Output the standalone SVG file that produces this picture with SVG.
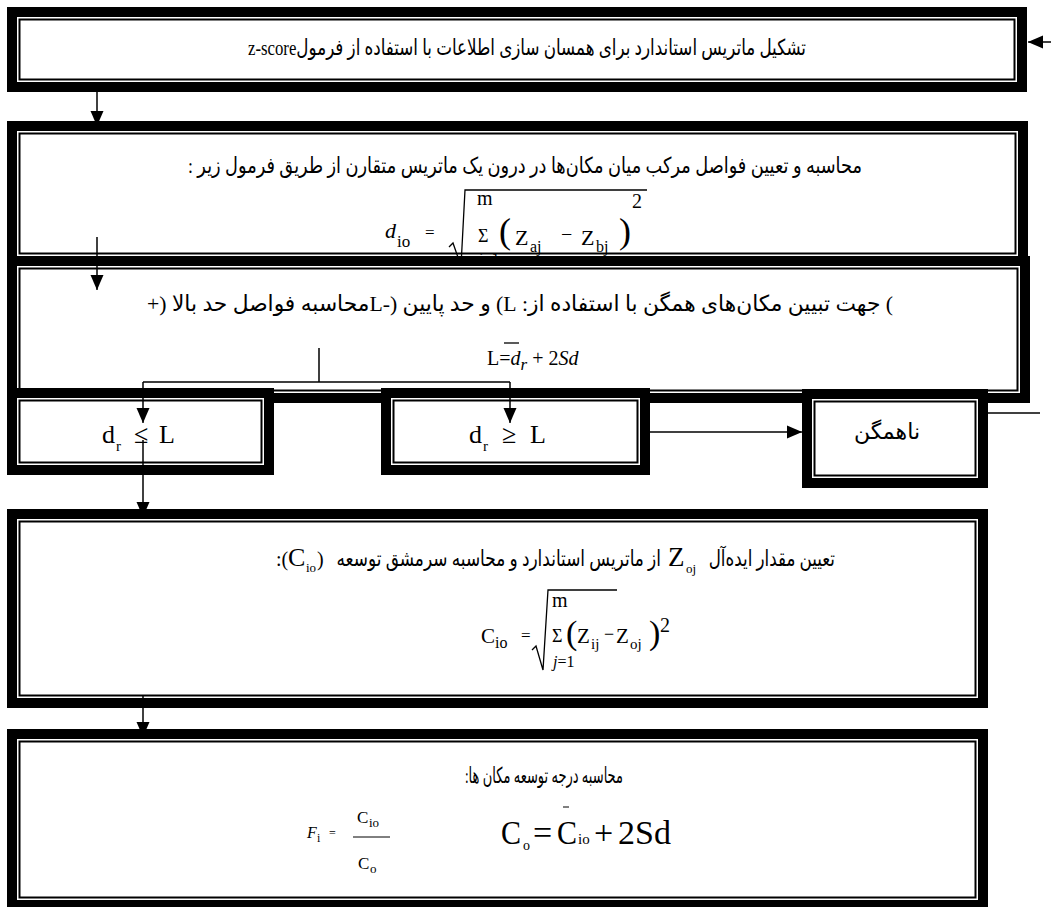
<svg xmlns="http://www.w3.org/2000/svg" width="1051" height="907" viewBox="0 0 1051 907">
<style>
.frame{fill:#000}
.inner{fill:#fff}
.line{fill:none;stroke:#000;stroke-width:2}
.fa{font-family:'Liberation Serif','DejaVu Sans',sans-serif;font-size:22px;fill:#000}
.m{font-family:'Liberation Serif',serif;fill:#000}
.it{font-style:italic}
.conn{stroke:#000;stroke-width:1.5;fill:none}
.arr{marker-end:url(#ah)}
.rad{fill:none;stroke:#000;stroke-width:1.3}
</style>
<defs>
<marker id="ah" markerUnits="userSpaceOnUse" markerWidth="14" markerHeight="15" refX="15" refY="7" orient="auto">
<path d="M0,0.5 L15,7 L0,13.5 z" fill="#000"/>
</marker>
</defs>
<rect width="1051" height="907" fill="#fff"/>

<g id="box1">
<rect class="frame" x="7" y="7" width="1020" height="85"/>
<rect class="inner" x="17" y="17" width="1000" height="65"/>
<rect class="line" x="19.5" y="19.5" width="995" height="60"/>
<text class="fa" x="527" y="55" text-anchor="middle" direction="rtl" textLength="558" lengthAdjust="spacingAndGlyphs">تشکیل ماتریس استاندارد برای همسان سازی اطلاعات با استفاده از فرمولz-score</text>
</g>

<g id="box2">
<rect class="frame" x="7" y="121" width="1021" height="145"/>
<rect class="inner" x="17" y="131" width="1001" height="125"/>
<rect class="line" x="19.5" y="133.5" width="996" height="120"/>
<text class="fa" x="525" y="173" text-anchor="middle" direction="rtl" textLength="674" lengthAdjust="spacingAndGlyphs">محاسبه و تعیین فواصل مرکب میان مکان‌ها در  درون یک ماتریس متقارن از طریق فرمول زیر :</text>
<text class="m it" x="385" y="238" font-size="22">d</text>
<text class="m" x="397" y="247" font-size="17">io</text>
<text class="m" x="425" y="238" font-size="17">=</text>
<path class="rad" d="M449,247 L453,243 L461,266 L465,190 L647,190"/>
<text class="m" x="477" y="205" font-size="20">m</text>
<text class="m" x="478" y="242" font-size="18">Σ</text>
<text class="m" x="478" y="264" font-size="16"><tspan class="it">j</tspan>=1</text>
<text class="m" x="499" y="243" font-size="36">(</text>
<text class="m" x="515" y="245" font-size="22">Z</text>
<text class="m" x="530" y="252" font-size="16">aj</text>
<text class="m" x="561" y="241" font-size="20">−</text>
<text class="m" x="581" y="245" font-size="22">Z</text>
<text class="m" x="596" y="252" font-size="16">bj</text>
<text class="m" x="619" y="243" font-size="36">)</text>
<text class="m" x="632" y="208" font-size="20">2</text>
</g>

<g id="box3">
<rect class="frame" x="7" y="256" width="1023" height="147"/>
<rect class="inner" x="17" y="266" width="1003" height="127"/>
<rect class="line" x="19.5" y="268.5" width="998" height="122"/>
<text class="fa" x="520" y="311" text-anchor="middle" direction="rtl" textLength="746" lengthAdjust="spacingAndGlyphs">) جهت تبیین مکان‌های همگن با استفاده از: L) و حد پایین (-Lمحاسبه فواصل حد بالا (+</text>
<text class="m" x="487" y="365" font-size="20">L=<tspan class="it">d</tspan><tspan class="it" font-size="17" dy="5">r</tspan><tspan dy="-5"> + 2</tspan><tspan class="it">Sd</tspan></text>
<path d="M504,343 H519" stroke="#000" stroke-width="1.3"/>
</g>

<g id="boxA">
<rect class="frame" x="7" y="388" width="267" height="87"/>
<rect class="inner" x="17" y="398" width="247" height="67"/>
<rect class="line" x="19.5" y="400.5" width="242" height="62"/>
<text class="m" x="102" y="443" font-size="26">d</text>
<text class="m" x="116" y="451" font-size="15">r</text>
<text class="m" x="134" y="443" font-size="26">≤</text>
<text class="m" x="159" y="443" font-size="26">L</text>
</g>

<g id="boxB">
<rect class="frame" x="381" y="388" width="269" height="87"/>
<rect class="inner" x="391" y="398" width="249" height="67"/>
<rect class="line" x="393.5" y="400.5" width="244" height="62"/>
<text class="m" x="469" y="443" font-size="26">d</text>
<text class="m" x="483" y="451" font-size="15">r</text>
<text class="m" x="502" y="443" font-size="26">≥</text>
<text class="m" x="530" y="443" font-size="26">L</text>
</g>

<g id="boxC">
<rect class="frame" x="802" y="389" width="186" height="99"/>
<rect class="inner" x="812" y="399" width="166" height="79"/>
<rect class="line" x="814.5" y="401.5" width="161" height="74"/>
<text class="fa" x="887" y="439" text-anchor="middle" direction="rtl" font-size="19">ناهمگن</text>
</g>

<g id="box4">
<rect class="frame" x="7" y="509" width="981" height="199"/>
<rect class="inner" x="17" y="519" width="961" height="179"/>
<rect class="line" x="19.5" y="521.5" width="956" height="174"/>
<text class="m" x="276" y="566" font-size="20">:(</text>
<text class="m" x="288" y="566" font-size="26">C</text>
<text class="m" x="306" y="572" font-size="13">io</text>
<text class="m" x="317" y="566" font-size="20">)</text>
<text class="fa" transform="translate(661,566) scale(0.77,1)" x="0" y="0" text-anchor="end">از ماتریس استاندارد و محاسبه سرمشق توسعه</text>
<text class="m" x="668" y="566" font-size="27">Z</text>
<text class="m" x="686" y="573" font-size="13">oj</text>
<text class="fa" transform="translate(835,566) scale(0.76,1)" x="0" y="0" text-anchor="end">تعیین مقدار ایده‌آل</text>
<text class="m" x="481" y="643" font-size="21">C</text>
<text class="m" x="495" y="648" font-size="16">io</text>
<text class="m" x="521" y="641" font-size="17">=</text>
<path class="rad" d="M532,650 L536,646 L543,670 L548,590 L617,590"/>
<text class="m" x="552" y="607" font-size="20">m</text>
<text class="m" x="552" y="642" font-size="18">Σ</text>
<text class="m" x="553" y="667" font-size="16"><tspan class="it">j</tspan>=1</text>
<text class="m" x="566" y="644" font-size="34">(</text>
<text class="m" x="577" y="643" font-size="21">Z</text>
<text class="m" x="591" y="649" font-size="15">ij</text>
<text class="m" x="604" y="640" font-size="18">−</text>
<text class="m" x="616" y="643" font-size="21">Z</text>
<text class="m" x="630" y="649" font-size="15">oj</text>
<text class="m" x="649" y="644" font-size="34">)</text>
<text class="m" x="660" y="632" font-size="20">2</text>
</g>

<g id="box5">
<rect class="frame" x="7" y="729" width="981" height="181"/>
<rect class="inner" x="17" y="739" width="961" height="161"/>
<rect class="line" x="19.5" y="741.5" width="956" height="156"/>
<text class="fa" x="544" y="783" text-anchor="middle" direction="rtl" font-size="20" textLength="158" lengthAdjust="spacingAndGlyphs">محاسبه درجه توسعه  مکان ها:</text>
<text class="m it" x="307" y="838" font-size="16">F</text>
<text class="m" x="317" y="842" font-size="12">i</text>
<text class="m" x="329" y="837" font-size="12">=</text>
<path d="M353,837 H390" stroke="#000" stroke-width="1"/>
<text class="m" x="357" y="823" font-size="17">C</text>
<text class="m" x="369" y="827" font-size="13">io</text>
<text class="m" x="358" y="869" font-size="17">C</text>
<text class="m" x="370" y="873" font-size="13">o</text>
<text class="m" x="501" y="844" font-size="34" textLength="20" lengthAdjust="spacingAndGlyphs">C</text>
<text class="m" x="523" y="850" font-size="14">o</text>
<text class="m" x="533" y="844" font-size="34">=</text>
<text class="m" x="557" y="844" font-size="34" textLength="20" lengthAdjust="spacingAndGlyphs">C</text>
<path d="M563,807 H569" stroke="#000" stroke-width="1"/>
<text class="m" x="578" y="844" font-size="15">io</text>
<text class="m" x="594" y="844" font-size="34">+</text>
<text class="m" x="618" y="844" font-size="34">2Sd</text>
</g>

<g id="connectors">
<path class="conn arr" d="M1051,42 H1028"/>
<path class="conn arr" d="M97,82 V126"/>
<path class="conn arr" d="M97,237 V290"/>
<path class="conn" d="M319,348 V382 M143,382 H510"/>
<path class="conn arr" d="M143,382 V423"/>
<path class="conn arr" d="M510,382 V423"/>
<path class="conn arr" d="M650,432 H802"/>
<path class="conn" d="M988,413 H1040"/>
<path class="conn arr" d="M143,440 V517"/>
<path class="conn arr" d="M143,695 V737"/>
</g>
</svg>
